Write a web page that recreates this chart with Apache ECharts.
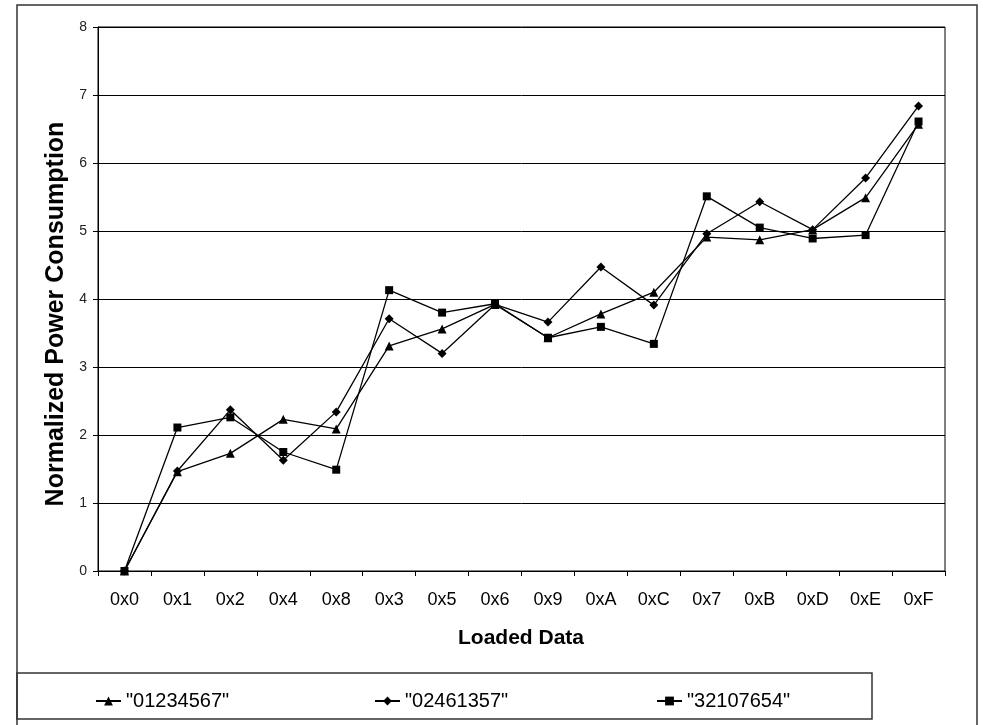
<!DOCTYPE html>
<html>
<head>
<meta charset="utf-8">
<title>Normalized Power Consumption</title>
<script src="https://cdn.jsdelivr.net/npm/echarts@6/dist/echarts.min.js"></script>
<style>
  html, body { margin: 0; padding: 0; background: #fff; }
  #chart { width: 983px; height: 725px; }
</style>
</head>
<body>
<div id="chart"></div>
<script>
// Loaded data values, in the order they appear on the x axis
const categories = ['0x0', '0x1', '0x2', '0x4', '0x8', '0x3', '0x5', '0x6',
                    '0x9', '0xA', '0xC', '0x7', '0xB', '0xD', '0xE', '0xF'];

// Series names (load orders)
const seriesNames = ['"01234567"', '"02461357"', '"32107654"'];

// Normalized power consumption for each load order
const order01234567 = [0, 1.46, 1.73, 2.23, 2.09, 3.31, 3.56, 3.92, 3.43, 3.78, 4.10, 4.91, 4.87, 5.02, 5.49, 6.57];
const order02461357 = [0, 1.47, 2.37, 1.63, 2.34, 3.71, 3.20, 3.92, 3.66, 4.47, 3.91, 4.96, 5.43, 5.02, 5.78, 6.84];
const order32107654 = [0, 2.11, 2.26, 1.75, 1.49, 4.13, 3.80, 3.93, 3.43, 3.59, 3.34, 5.51, 5.05, 4.89, 4.94, 6.61];

// Y axis scale
const yMin = 0;
const yMax = 8;
const yStep = 1;

const FONT = '"Liberation Sans", Arial, Helvetica, sans-serif';

const chart = echarts.init(document.getElementById('chart'), null, { renderer: 'canvas' });

const markerStyles = [
  { symbol: 'triangle', size: 9 },
  { symbol: 'diamond', size: 9 },
  { symbol: 'rect', size: 8 }
];
const seriesData = [order01234567, order02461357, order32107654];

const series = seriesNames.map((name, i) => ({
  name: name,
  type: 'line',
  data: seriesData[i],
  symbol: markerStyles[i].symbol,
  symbolSize: markerStyles[i].size,
  showAllSymbol: true,
  animation: false,
  lineStyle: { color: '#000', width: 1.3 },
  itemStyle: { color: '#000' },
  emphasis: { disabled: true }
}));

const legendLefts = [90, 369, 651];
const legends = seriesNames.map((name, i) => ({
  data: [name],
  left: legendLefts[i],
  top: 686,
  itemWidth: 25,
  itemHeight: 11,
  selectedMode: false,
  textStyle: { color: '#000', fontSize: 20, fontFamily: FONT }
}));

chart.setOption({
  animation: false,
  backgroundColor: '#fff',
  grid: {
    left: 98, right: 38, top: 27, bottom: 154,
    show: true,
    borderColor: '#000',
    borderWidth: 1,
    containLabel: false
  },
  legend: legends,
  xAxis: {
    type: 'category',
    data: categories,
    boundaryGap: true,
    axisLine: { show: true, lineStyle: { color: '#000', width: 1 } },
    axisTick: { show: true, inside: false, length: 5, interval: 0, alignWithLabel: false,
                lineStyle: { color: '#000', width: 1 } },
    axisLabel: { interval: 0, margin: 20, color: '#000', fontSize: 18, fontFamily: FONT },
    splitLine: { show: false }
  },
  yAxis: {
    type: 'value',
    min: yMin,
    max: yMax,
    interval: yStep,
    axisLine: { show: true, lineStyle: { color: '#000', width: 1 } },
    axisTick: { show: true, inside: false, length: 5, lineStyle: { color: '#000', width: 1 } },
    axisLabel: { margin: 11, color: '#222', fontSize: 14, fontFamily: FONT },
    splitLine: { show: true, lineStyle: { color: '#000', width: 1 } }
  },
  graphic: [
    { // outer chart frame
      type: 'rect', silent: true, z: 0,
      shape: { x: 17, y: 5, width: 960, height: 760 },
      style: { fill: 'none', stroke: '#333', lineWidth: 1.5 }
    },
    { // legend frame
      type: 'rect', silent: true, z: 0,
      shape: { x: 17, y: 673, width: 855, height: 46 },
      style: { fill: 'none', stroke: '#333', lineWidth: 1.5 }
    },
    { // y axis title
      type: 'text', silent: true,
      x: 56, y: 314, rotation: Math.PI / 2,
      style: {
        text: 'Normalized Power Consumption',
        fill: '#000', fontSize: 25, fontWeight: 'bold', fontFamily: FONT,
        align: 'center', verticalAlign: 'middle'
      }
    },
    { // x axis title
      type: 'text', silent: true,
      x: 521, y: 638,
      style: {
        text: 'Loaded Data',
        fill: '#000', fontSize: 21, fontWeight: 'bold', fontFamily: FONT,
        align: 'center', verticalAlign: 'middle'
      }
    }
  ],
  series: series
});
</script>
</body>
</html>
